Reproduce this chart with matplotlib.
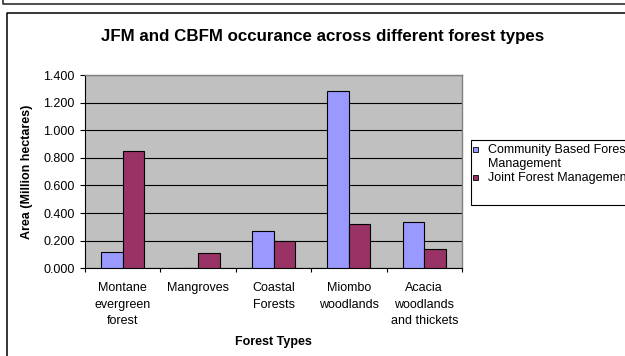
import numpy as np
import matplotlib
matplotlib.use("Agg")
import matplotlib.pyplot as plt
from matplotlib.patches import Rectangle
from matplotlib.lines import Line2D
from matplotlib.ticker import FixedLocator, FuncFormatter

plt.rcParams["font.family"] = ["Liberation Sans", "DejaVu Sans"]

# values (million hectares)
forest_types = ["Montane\nevergreen\nforest", "Mangroves", "Coastal\nForests",
                "Miombo\nwoodlands", "Acacia\nwoodlands\nand thickets"]
series_names = ["Community Based Forest\nManagement", "Joint Forest Management"]
cbfm = [0.116, 0.0, 0.272, 1.282, 0.337]
jfm = [0.848, 0.108, 0.195, 0.320, 0.140]
series_colors = ["#9999FF", "#993366"]
y_ticks = [0.0, 0.2, 0.4, 0.6, 0.8, 1.0, 1.2, 1.4]

W, H = 625, 356
fig = plt.figure(figsize=(W / 100, H / 100), dpi=100)

def fx(px):
    return px / W

def fy(py):
    return 1 - py / H

# outer frames (bottom of the box above, and the chart box)
fig.add_artist(Line2D([fx(2.5), fx(2.5), 1.0], [1.0, fy(3.5), fy(3.5)],
                      color="#404040", lw=1.3, transform=fig.transFigure))
fig.add_artist(Line2D([fx(6.5), fx(6.5), 1.0], [0.0, fy(12.5), fy(12.5)],
                      color="black", lw=1.1, transform=fig.transFigure))

ax = fig.add_axes([fx(85), fy(268.3), fx(462) - fx(85), fy(75) - fy(268.3)])
ax.set_facecolor("#C0C0C0")

x = np.arange(len(forest_types))
bw = 0.285
ax.bar(x - bw / 2, cbfm, bw, color=series_colors[0], edgecolor="black", lw=0.8, zorder=3)
ax.bar(x + bw / 2, jfm, bw, color=series_colors[1], edgecolor="black", lw=0.8, zorder=3)

ax.set_xlim(-0.5, len(forest_types) - 0.5)
ax.set_ylim(0, 1.4)
ax.yaxis.set_major_locator(FixedLocator(y_ticks))
ax.yaxis.set_major_formatter(FuncFormatter(lambda v, p: f"{v:.3f}"))
ax.grid(axis="y", color="black", lw=0.8, zorder=1)
ax.set_axisbelow(True)

# category ticks between groups, labels in the middle
ax.xaxis.set_major_locator(FixedLocator(np.arange(len(forest_types) + 1) - 0.5))
ax.xaxis.set_major_formatter(FuncFormatter(lambda v, p: ""))
ax.xaxis.set_minor_locator(FixedLocator(x))
ax.set_xticklabels(forest_types, minor=True, fontsize=9, linespacing=1.5)
ax.tick_params(axis="x", which="major", direction="out", length=3.2, width=0.8)
ax.tick_params(axis="x", which="minor", length=0, pad=10.2)
ax.tick_params(axis="y", direction="out", length=3.3, width=0.8, pad=4.3, labelsize=9)

for s in ["top", "right"]:
    ax.spines[s].set_color("#808080")
    ax.spines[s].set_linewidth(1.0)
for s in ["left", "bottom"]:
    ax.spines[s].set_color("black")
    ax.spines[s].set_linewidth(0.8)

ax.set_xlabel("Forest Types", fontsize=9, fontweight="bold")
ax.xaxis.set_label_coords(0.5, (268.3 - 336.5) / (268.3 - 75))
ax.set_ylabel("Area (Million hectares)", fontsize=9, fontweight="bold")
ax.yaxis.set_label_coords((33.3 - 85) / (462 - 85), 0.5)

fig.text(fx(323), fy(40.7), "JFM and CBFM occurance across different forest types",
         ha="center", va="baseline", fontsize=12.2, fontweight="bold")

# legend box (runs past the right edge like the original)
fig.add_artist(Rectangle((fx(471), fy(205)), 0.4, fy(140) - fy(205),
                         transform=fig.transFigure, facecolor="white",
                         edgecolor="black", lw=0.8))
text_tops = [144.5, 172.0]
square_tops = [146.5, 175]
for name, col, top, sq in zip(series_names, series_colors, text_tops, square_tops):
    fig.add_artist(Rectangle((fx(473), fy(sq + 5)), 5 / W, 5 / H,
                             transform=fig.transFigure, facecolor=col,
                             edgecolor="black", lw=0.6))
    fig.text(fx(488), fy(top), name, ha="left", va="top", fontsize=9,
             linespacing=1.2)

fig.savefig("out.png", dpi=100)
